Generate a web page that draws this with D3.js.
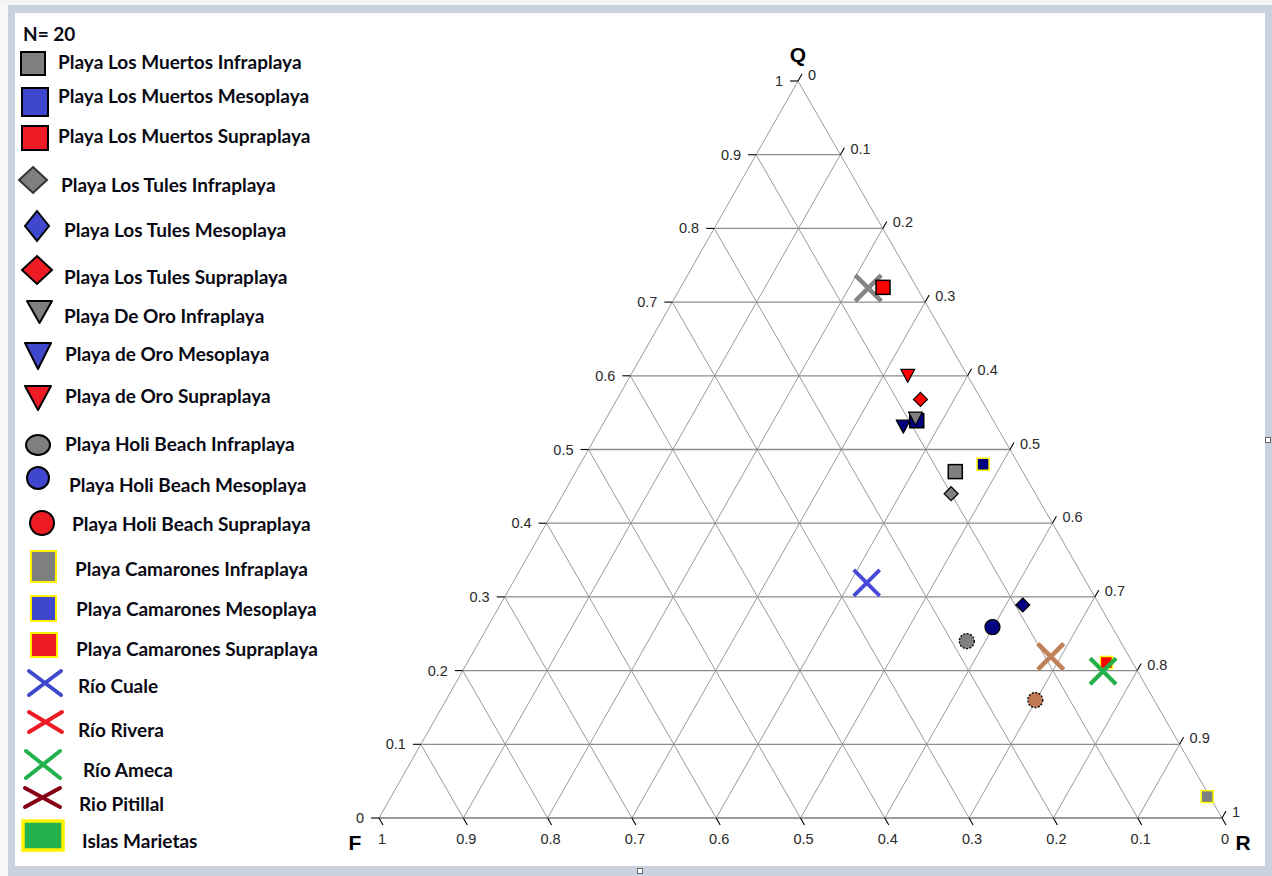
<!DOCTYPE html>
<html><head><meta charset="utf-8">
<script src="https://cdn.jsdelivr.net/npm/d3@7"></script>
<style>
html,body{margin:0;padding:0;background:#fff;overflow:hidden;}
svg{display:block;}
</style></head>
<body>
<svg id="chart" width="1272" height="876"></svg>
<script>
// ---------------- DATA ----------------
const sampleNames = [
  "Río (gris)", "Playa Los Muertos Supraplaya", "Playa de Oro Supraplaya", "Playa Los Tules Supraplaya",
  "Playa de Oro Mesoplaya", "Playa Los Muertos Mesoplaya", "Playa De Oro Infraplaya", "Playa Los Muertos Infraplaya",
  "Playa Camarones Mesoplaya", "Playa Los Tules Infraplaya", "Playa Los Tules Mesoplaya", "Playa Holi Beach Mesoplaya",
  "Playa Holi Beach Infraplaya", "Playa Holi Beach Supraplaya", "Playa Camarones Supraplaya", "Playa Camarones Infraplaya",
  "Río Cuale", "Río (café)", "Río Ameca"
];
const qValues = [0.719, 0.720, 0.600, 0.568, 0.531, 0.539, 0.542, 0.470, 0.480, 0.440, 0.289, 0.259, 0.240, 0.160, 0.211, 0.029, 0.319, 0.219, 0.199];
const fValues = [0.058, 0.040, 0.071, 0.072, 0.111, 0.091, 0.091, 0.080, 0.042, 0.100, 0.091, 0.142, 0.182, 0.141, 0.031, 0.003, 0.261, 0.093, 0.041];
const rValues = [0.223, 0.240, 0.329, 0.360, 0.358, 0.370, 0.367, 0.450, 0.478, 0.460, 0.620, 0.599, 0.578, 0.699, 0.758, 0.968, 0.420, 0.688, 0.760];

const tickValues = [0, 0.1, 0.2, 0.3, 0.4, 0.5, 0.6, 0.7, 0.8, 0.9, 1];
const tickLabels = ["0", "0.1", "0.2", "0.3", "0.4", "0.5", "0.6", "0.7", "0.8", "0.9", "1"];
const axisTitles = ["Q", "F", "R"];
const sampleCountLabel = "N= 20";

const legendNames = [
  "Playa Los Muertos Infraplaya", "Playa Los Muertos Mesoplaya", "Playa Los Muertos Supraplaya",
  "Playa Los Tules Infraplaya", "Playa Los Tules Mesoplaya", "Playa Los Tules Supraplaya",
  "Playa De Oro Infraplaya", "Playa de Oro Mesoplaya", "Playa de Oro Supraplaya",
  "Playa Holi Beach Infraplaya", "Playa Holi Beach Mesoplaya", "Playa Holi Beach Supraplaya",
  "Playa Camarones Infraplaya", "Playa Camarones Mesoplaya", "Playa Camarones Supraplaya",
  "Río Cuale", "Río Rivera", "Río Ameca", "Rio Pitillal", "Islas Marietas"
];

// ---------------- STYLES ----------------
const GRAY = "#808080", NAVY = "#000080", RED = "#ff0000", YEL = "#ffff00";
const markerStyle = {
  "Río (gris)": {shape: "x", color: "#858585", w: 4.5},
  "Playa Los Muertos Supraplaya": {shape: "square", fill: RED, stroke: "#000"},
  "Playa de Oro Supraplaya": {shape: "tri", fill: RED, stroke: "#000"},
  "Playa Los Tules Supraplaya": {shape: "diamond", fill: RED, stroke: "#000"},
  "Playa de Oro Mesoplaya": {shape: "tri", fill: NAVY, stroke: "#000"},
  "Playa Los Muertos Mesoplaya": {shape: "square", fill: NAVY, stroke: "#000"},
  "Playa De Oro Infraplaya": {shape: "tri", fill: GRAY, stroke: "#000"},
  "Playa Los Muertos Infraplaya": {shape: "square", fill: GRAY, stroke: "#000"},
  "Playa Camarones Mesoplaya": {shape: "square", fill: NAVY, stroke: YEL, size: 12},
  "Playa Los Tules Infraplaya": {shape: "diamond", fill: GRAY, stroke: "#000"},
  "Playa Los Tules Mesoplaya": {shape: "diamond", fill: NAVY, stroke: "#000"},
  "Playa Holi Beach Mesoplaya": {shape: "circle", fill: NAVY, stroke: "#000"},
  "Playa Holi Beach Infraplaya": {shape: "circle", fill: GRAY, stroke: "#000", dash: "2,1.5"},
  "Playa Holi Beach Supraplaya": {shape: "circle", fill: "#c07850", stroke: "#000", dash: "2,1.5"},
  "Playa Camarones Supraplaya": {shape: "square", fill: RED, stroke: YEL, size: 12},
  "Playa Camarones Infraplaya": {shape: "square", fill: GRAY, stroke: YEL, size: 12},
  "Río Cuale": {shape: "x", color: "#4848d8", w: 3.8},
  "Río (café)": {shape: "x", color: "#c0805a", w: 4.5},
  "Río Ameca": {shape: "x", color: "#26b04a", w: 4.2}
};

// legend symbol styles (hand-drawn look) and layout
const P_GRAY = "#7f7f7f", P_BLUE = "#3f48cc", P_RED = "#ed1c24", P_GREEN = "#22b14c", P_DRED = "#880015", P_YEL = "#fff200";
const legendStyle = [
  {shape: "square", fill: P_GRAY, stroke: "#000"}, {shape: "square", fill: P_BLUE, stroke: "#000"}, {shape: "square", fill: P_RED, stroke: "#000"},
  {shape: "diamond", fill: P_GRAY, stroke: "#333"}, {shape: "diamond", fill: P_BLUE, stroke: "#000"}, {shape: "diamond", fill: P_RED, stroke: "#000"},
  {shape: "tri", fill: P_GRAY, stroke: "#000"}, {shape: "tri", fill: P_BLUE, stroke: "#000"}, {shape: "tri", fill: P_RED, stroke: "#000"},
  {shape: "circle", fill: P_GRAY, stroke: "#000"}, {shape: "circle", fill: P_BLUE, stroke: "#000"}, {shape: "circle", fill: P_RED, stroke: "#000"},
  {shape: "square", fill: P_GRAY, stroke: P_YEL}, {shape: "square", fill: P_BLUE, stroke: P_YEL}, {shape: "square", fill: P_RED, stroke: P_YEL},
  {shape: "x", color: P_BLUE}, {shape: "x", color: P_RED}, {shape: "x", color: P_GREEN}, {shape: "x", color: P_DRED},
  {shape: "square", fill: P_GREEN, stroke: P_YEL, sw: 3.5}
];
// [marker cx, cy, half width, half height, text x, text baseline]
const legendLayout = [
  [33, 63.5, 12, 11.5, 58, 69.3], [35, 102, 13, 14, 58, 103.3], [35, 138, 13, 12, 58, 143.3],
  [33, 180, 14, 13, 61, 192.3], [37, 226, 12, 15, 64, 236.7], [37, 270, 15, 14, 64, 284],
  [39.5, 312, 12.5, 11, 64, 323.3], [38, 356, 13, 13, 65, 360.7], [38, 398, 13, 12, 65, 403.3],
  [38, 445, 12, 10, 65, 450.7], [38, 478, 11, 11, 69, 492.3], [42, 523, 12, 12, 72, 531],
  [43.5, 566.5, 12.5, 15.5, 75, 575.7], [43.5, 608.5, 12.5, 12.5, 76, 615.7], [44, 645, 13, 12, 76, 656],
  [45, 683, 16, 12, 78, 693.3], [45.5, 722, 16.5, 10, 78, 737.3], [43, 764.5, 17, 13.5, 83, 776.7],
  [42.5, 797.5, 17.5, 9.5, 79, 811], [43, 835.5, 20, 14.5, 82, 847.7]
];

// ---------------- GEOMETRY ----------------
const svg = d3.select("#chart");
const vF = [379, 818], vQ = [798, 81], vR = [1222, 818];
const yScale = d3.scaleLinear().domain([0, 1]).range([vF[1], vQ[1]]);       // Q -> y
const xBase = d3.scaleLinear().domain([0, 1]).range([vF[0], vR[0]]);        // R along base
const apexShift = (vQ[0] - vF[0]) / (vR[0] - vF[0]);
function proj(q, f, r) {
  const s = q + f + r;
  q /= s; r /= s;
  return [xBase(r + q * apexShift), yScale(q)];
}

// frame
svg.append("rect").attr("x", 0).attr("y", 0).attr("width", 1272).attr("height", 876).attr("fill", "#f3f4f6");
svg.append("rect").attr("x", 0).attr("y", 5).attr("width", 8).attr("height", 871).attr("fill", "#f8f9fa");
svg.append("rect").attr("x", 8).attr("y", 5).attr("width", 1264).attr("height", 871).attr("fill", "#cad2e0");
svg.append("rect").attr("x", 15).attr("y", 13).attr("width", 1250).attr("height", 853).attr("fill", "#ffffff");
svg.append("rect").attr("x", 1265.5).attr("y", 437.5).attr("width", 5).attr("height", 5).attr("fill", "#fff").attr("stroke", "#666").attr("stroke-width", 1);
svg.append("rect").attr("x", 637.5).attr("y", 868.5).attr("width", 5).attr("height", 5).attr("fill", "#fff").attr("stroke", "#666").attr("stroke-width", 1);

const plot = svg.append("g");
const line = d3.line();

// grid
const inner = tickValues.filter(t => t > 0 && t < 1);
const gridG = plot.append("g").attr("fill", "none");
inner.forEach(t => {
  gridG.append("path").attr("d", line([proj(t, 1 - t, 0), proj(t, 0, 1 - t)])).attr("stroke", "#8c8c8c").attr("stroke-width", 1.3);
  gridG.append("path").attr("d", line([proj(0, 1 - t, t), proj(1 - t, 0, t)])).attr("stroke", "#9a9a9a").attr("stroke-width", 1);
  gridG.append("path").attr("d", line([proj(0, t, 1 - t), proj(1 - t, t, 0)])).attr("stroke", "#9a9a9a").attr("stroke-width", 1);
});
gridG.append("path").attr("d", line([proj(1, 0, 0), proj(0, 1, 0)])).attr("stroke", "#9a9a9a").attr("stroke-width", 1);
gridG.append("path").attr("d", line([proj(1, 0, 0), proj(0, 0, 1)])).attr("stroke", "#9a9a9a").attr("stroke-width", 1);
gridG.append("path").attr("d", line([proj(0, 1, 0), proj(0, 0, 1)])).attr("stroke", "#7a7a7a").attr("stroke-width", 1.3);

// markers
function drawSymbol(g, st, cx, cy, hw, hh) {
  if (st.shape === "square") {
    g.append("rect").attr("x", cx - hw).attr("y", cy - hh).attr("width", 2 * hw).attr("height", 2 * hh)
      .attr("fill", st.fill).attr("stroke", st.stroke).attr("stroke-width", st.sw || 1.5);
  } else if (st.shape === "diamond") {
    g.append("path").attr("d", line([[cx, cy - hh], [cx + hw, cy], [cx, cy + hh], [cx - hw, cy]]) + "Z")
      .attr("fill", st.fill).attr("stroke", st.stroke).attr("stroke-width", st.sw || 1.2);
  } else if (st.shape === "tri") {
    g.append("path").attr("d", line([[cx - hw, cy - hh], [cx + hw, cy - hh], [cx, cy + hh]]) + "Z")
      .attr("fill", st.fill).attr("stroke", st.stroke).attr("stroke-width", st.sw || 1.2).attr("stroke-linejoin", "round");
  } else if (st.shape === "circle") {
    g.append("ellipse").attr("cx", cx).attr("cy", cy).attr("rx", hw).attr("ry", hh)
      .attr("fill", st.fill).attr("stroke", st.stroke).attr("stroke-width", st.sw || 1.3)
      .attr("stroke-dasharray", st.dash || null);
  } else if (st.shape === "x") {
    const p = d3.path();
    p.moveTo(cx - hw, cy + hh); p.lineTo(cx + hw, cy - hh);
    p.moveTo(cx - hw, cy - hh); p.lineTo(cx + hw, cy + hh);
    g.append("path").attr("d", p.toString()).attr("fill", "none").attr("stroke", st.color)
      .attr("stroke-width", st.w || 4).attr("stroke-linecap", st.cap || "butt");
  }
}

const markG = plot.append("g");
sampleNames.forEach((name, i) => {
  const [x, y] = proj(qValues[i], fValues[i], rValues[i]);
  const st = markerStyle[name];
  const half = {square: (st.size || 14) / 2, diamond: 7, tri: 7, circle: 7.5, x: 13}[st.shape];
  const hh = st.shape === "tri" ? 6.5 : half;
  drawSymbol(markG, st, x, y, half, hh);
});

// ticks & labels
const tickG = plot.append("g").attr("stroke", "#000").attr("stroke-width", 1.1);
const labG = plot.append("g").attr("font-family", "'Liberation Sans', Arial, sans-serif").attr("font-size", 14.5).attr("fill", "#2a2a2a");
tickValues.forEach((t, i) => {
  // Q axis (left edge)
  const pq = proj(t, 1 - t, 0);
  tickG.append("path").attr("d", line([[pq[0] - 8, pq[1]], pq]));
  labG.append("text").attr("x", pq[0] - 15).attr("y", pq[1] + 5).attr("text-anchor", "end").text(tickLabels[i]);
  // R axis (right edge)
  const pr = proj(1 - t, 0, t);
  tickG.append("path").attr("d", line([pr, [pr[0] + 4, pr[1] - 7]]));
  labG.append("text").attr("x", pr[0] + 10).attr("y", pr[1] - 1).attr("text-anchor", "start").text(tickLabels[i]);
  // F axis (bottom edge)
  const pf = proj(0, t, 1 - t);
  tickG.append("path").attr("d", line([pf, [pf[0] + 4, pf[1] + 7]]));
  labG.append("text").attr("x", pf[0] + 3).attr("y", pf[1] + 26).attr("text-anchor", "middle").text(tickLabels[i]);
});

// axis titles
const titleG = plot.append("g").attr("font-family", "'Liberation Sans', Arial, sans-serif").attr("font-size", 21).attr("font-weight", "bold").attr("fill", "#000").attr("text-anchor", "middle");
const pQ = proj(1, 0, 0), pF = proj(0, 1, 0), pR = proj(0, 0, 1);
titleG.append("text").attr("x", pQ[0]).attr("y", pQ[1] - 19).text(axisTitles[0]);
titleG.append("text").attr("x", pF[0] - 24).attr("y", pF[1] + 32).text(axisTitles[1]);
titleG.append("text").attr("x", pR[0] + 21).attr("y", pR[1] + 32).text(axisTitles[2]);

// legend
const legG = svg.append("g");
const legText = legG.append("g").attr("font-family", "Lato, 'Open Sans', sans-serif").attr("font-weight", "bold").attr("font-size", 19).attr("fill", "#0a0a14");
legText.append("text").attr("x", 23).attr("y", 40.7).text(sampleCountLabel);
legendNames.forEach((name, i) => {
  const [cx, cy, hw, hh, tx, ty] = legendLayout[i];
  const st = Object.assign({}, legendStyle[i]);
  if (st.shape === "x") { st.w = 4; st.cap = "round"; }
  if (st.shape !== "x" && !st.sw) st.sw = 2;
  drawSymbol(legG, st, cx, cy, hw, hh);
  legText.append("text").attr("x", tx).attr("y", ty).text(name);
});
</script>
</body></html>
